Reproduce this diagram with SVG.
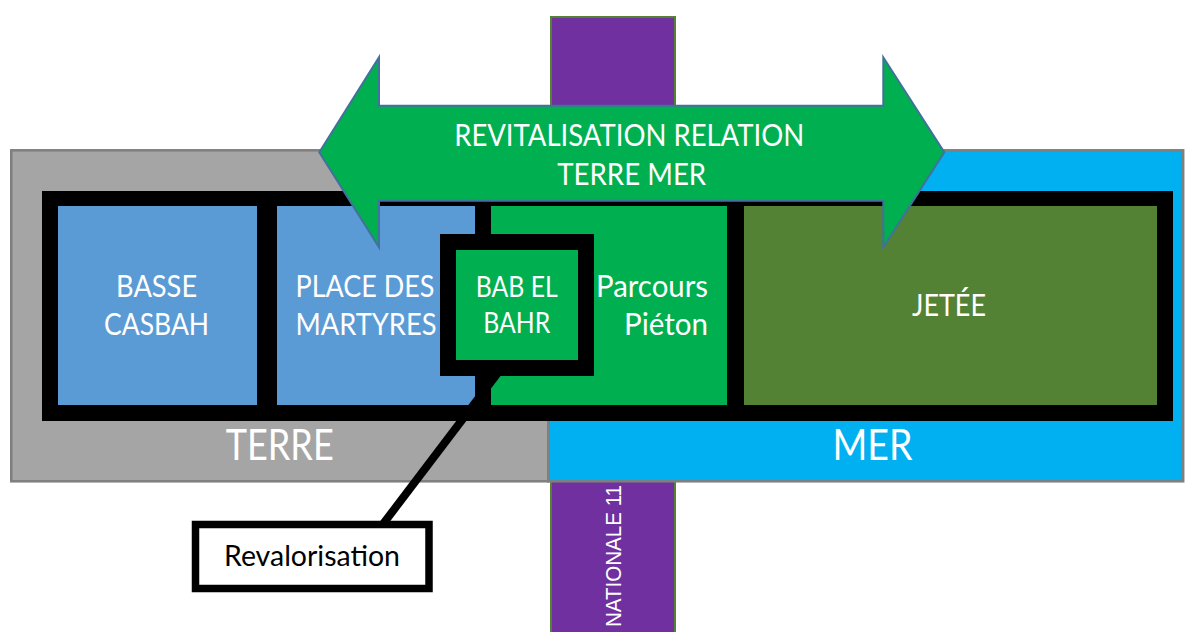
<svg xmlns="http://www.w3.org/2000/svg" width="1185" height="632" viewBox="0 0 1185 632">
  <style>
    .lbl { font-family: Lato, "Open Sans", "Liberation Sans", sans-serif; fill: #FFFFFF; }
    .cell { stroke: none; }
    .zone { stroke: #7F7F7F; stroke-width: 2.5; }
  </style>

  <!-- Route nationale (under the zones) -->
  <g id="nationale11">
    <rect x="551" y="17" width="124" height="630" fill="#7030A0" stroke="#548235" stroke-width="2"/>
    <text transform="translate(621,627) rotate(-90)" x="0" y="0" font-family="'Liberation Sans', Arial, sans-serif" font-size="22" fill="#FFFFFF" textLength="142" lengthAdjust="spacingAndGlyphs">NATIONALE 11</text>
  </g>

  <!-- Zones: land and sea -->
  <g id="mer">
    <rect class="zone" x="548.2" y="150.3" width="635" height="331" fill="#00B0F0"/>
    <text class="lbl" x="872.5" y="460" font-size="42" text-anchor="middle" textLength="80" lengthAdjust="spacingAndGlyphs">MER</text>
  </g>
  <g id="terre">
    <rect class="zone" x="11.25" y="150.3" width="537" height="331" fill="#A5A5A5"/>
    <text class="lbl" x="279.7" y="460" font-size="42" text-anchor="middle" textLength="108" lengthAdjust="spacingAndGlyphs">TERRE</text>
  </g>

  <!-- Black frame holding the sequence of spaces -->
  <g id="frame">
    <rect x="42" y="191" width="1131" height="230" fill="#000000"/>
  </g>

  <g id="basse-casbah">
    <rect class="cell" x="58" y="206" width="199" height="199" fill="#5B9BD5"/>
    <text class="lbl" x="156.6" y="296.7" font-size="30" text-anchor="middle" textLength="81" lengthAdjust="spacingAndGlyphs">BASSE</text>
    <text class="lbl" x="156.6" y="335" font-size="30" text-anchor="middle" textLength="105" lengthAdjust="spacingAndGlyphs">CASBAH</text>
  </g>

  <g id="place-des-martyres">
    <rect class="cell" x="277" y="206" width="198" height="199" fill="#5B9BD5"/>
    <text class="lbl" x="295.5" y="296.7" font-size="30" textLength="139" lengthAdjust="spacingAndGlyphs">PLACE DES</text>
    <text class="lbl" x="295.5" y="335" font-size="30" textLength="141" lengthAdjust="spacingAndGlyphs">MARTYRES</text>
  </g>

  <g id="parcours-pieton">
    <rect class="cell" x="491" y="206" width="236" height="199" fill="#00B050"/>
    <text class="lbl" x="708" y="296.7" font-size="30" text-anchor="end" textLength="112" lengthAdjust="spacingAndGlyphs">Parcours</text>
    <text class="lbl" x="708" y="335" font-size="30" text-anchor="end" textLength="84" lengthAdjust="spacingAndGlyphs">Piéton</text>
  </g>

  <g id="jetee">
    <rect class="cell" x="744" y="206" width="413" height="199" fill="#548235"/>
    <text class="lbl" x="949" y="316" font-size="30" text-anchor="middle" textLength="74" lengthAdjust="spacingAndGlyphs">JETÉE</text>
  </g>

  <g id="bab-el-bahr">
    <rect x="448" y="242" width="138" height="126" fill="#00B050" stroke="#000000" stroke-width="16"/>
    <text class="lbl" x="516.7" y="296.7" font-size="28" text-anchor="middle" textLength="82" lengthAdjust="spacingAndGlyphs">BAB EL</text>
    <text class="lbl" x="516.8" y="332.7" font-size="28" text-anchor="middle" textLength="67" lengthAdjust="spacingAndGlyphs">BAHR</text>
  </g>

  <!-- Callout leader -->
  <g id="connectors">
    <line x1="500" y1="370" x2="380" y2="528" stroke="#000000" stroke-width="8"/>
  </g>

  <g id="revalorisation">
    <rect x="195.5" y="524.5" width="233.5" height="64" fill="#FFFFFF" stroke="#000000" stroke-width="7.5"/>
    <text x="312" y="566" font-family="Lato, 'Open Sans', 'Liberation Sans', sans-serif" font-size="28" fill="#000000" text-anchor="middle" textLength="176" lengthAdjust="spacingAndGlyphs">Revalorisation</text>
  </g>

  <!-- Double arrow land / sea -->
  <g id="revitalisation">
    <polygon points="319.3,152.3 379,57.3 379,105.7 883.3,105.7 883.3,57.3 944.3,152.3 883.3,247.3 883.3,200.7 379,200.7 379,247.3" fill="#00B050" stroke="#41719C" stroke-width="2"/>
    <text class="lbl" x="629.2" y="146" font-size="30" text-anchor="middle" textLength="350" lengthAdjust="spacingAndGlyphs">REVITALISATION RELATION</text>
    <text class="lbl" x="631.7" y="185" font-size="30" text-anchor="middle" textLength="149" lengthAdjust="spacingAndGlyphs">TERRE MER</text>
  </g>
</svg>
